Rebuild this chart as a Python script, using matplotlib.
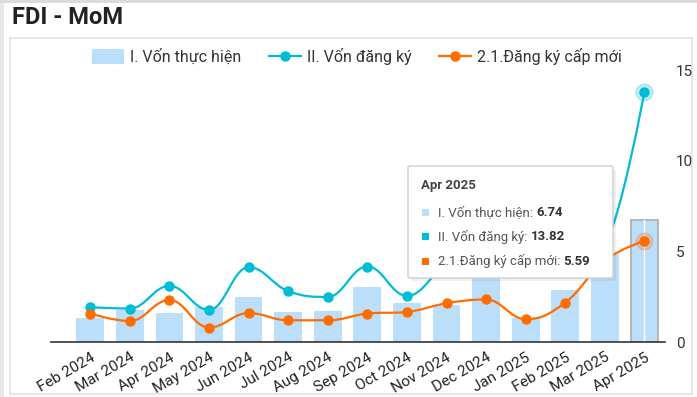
import numpy as np
import matplotlib.pyplot as plt
from matplotlib.path import Path
from matplotlib.patches import PathPatch, Rectangle, FancyBboxPatch, Patch
from matplotlib.lines import Line2D

plt.rcParams['font.family'] = ['Roboto', 'DejaVu Sans']

months = ['Feb 2024', 'Mar 2024', 'Apr 2024', 'May 2024', 'Jun 2024', 'Jul 2024',
          'Aug 2024', 'Sep 2024', 'Oct 2024', 'Nov 2024', 'Dec 2024', 'Jan 2025',
          'Feb 2025', 'Mar 2025', 'Apr 2025']
von_thuc_hien = [1.30, 1.75, 1.60, 1.94, 2.49, 1.66, 1.74, 3.04, 2.16, 2.05, 3.70, 1.35, 2.90, 4.85, 6.74]
von_dang_ky = [1.92, 1.85, 3.10, 1.77, 4.13, 2.81, 2.49, 4.17, 2.55, 4.30, 5.20, 3.90, 4.10, 5.40, 13.82]
dang_ky_moi = [1.57, 1.16, 2.32, 0.80, 1.60, 1.20, 1.20, 1.57, 1.66, 2.14, 2.35, 1.26, 2.18, 4.50, 5.59]

C_BAR = '#BBDEFB'
C_TEAL = '#00BCD4'
C_ORANGE = '#FF6D00'

W, H = 697, 397


def fx(px):
    return px / W


def fy(py):
    return 1 - py / H


def spline_path(xs, ys, smoothing=1.5):
    # highcharts-like spline through the points
    n = len(xs)
    denom = smoothing + 1
    rc = [None] * n
    lc = [None] * n
    for i in range(1, n - 1):
        px, py = xs[i], ys[i]
        lx, ly = xs[i - 1], ys[i - 1]
        nx, ny = xs[i + 1], ys[i + 1]
        lcx = (smoothing * px + lx) / denom
        lcy = (smoothing * py + ly) / denom
        rcx = (smoothing * px + nx) / denom
        rcy = (smoothing * py + ny) / denom
        corr = (rcy - lcy) * (rcx - px) / (rcx - lcx) + py - rcy
        lcy += corr
        rcy += corr
        if lcy > ly and lcy > py:
            lcy = max(ly, py); rcy = 2 * py - lcy
        elif lcy < ly and lcy < py:
            lcy = min(ly, py); rcy = 2 * py - lcy
        if rcy > ny and rcy > py:
            rcy = max(ny, py); lcy = 2 * py - rcy
        elif rcy < ny and rcy < py:
            rcy = min(ny, py); lcy = 2 * py - rcy
        lc[i] = (lcx, lcy)
        rc[i] = (rcx, rcy)
    verts = [(xs[0], ys[0])]
    codes = [Path.MOVETO]
    for i in range(1, n):
        c1 = rc[i - 1] if rc[i - 1] is not None else (xs[i - 1], ys[i - 1])
        c2 = lc[i] if lc[i] is not None else (xs[i], ys[i])
        verts += [c1, c2, (xs[i], ys[i])]
        codes += [Path.CURVE4] * 3
    return Path(verts, codes)


fig = plt.figure(figsize=(W / 100, H / 100), dpi=100)

# page frame
fig.patches.append(Rectangle((0, 0), fx(4), 1, transform=fig.transFigure,
                             facecolor='#e9e9e9', edgecolor='none', zorder=-2))
fig.patches.append(Rectangle((0, fy(2.5)), 1, fy(0) - fy(2.5), transform=fig.transFigure,
                             facecolor='#dcdcdc', edgecolor='none', zorder=-2))
fig.patches.append(Rectangle((fx(10), fy(394)), fx(682), fy(37.5) - fy(394),
                             transform=fig.transFigure, facecolor='white',
                             edgecolor='#e2e2e2', linewidth=1.2, zorder=-1))

fig.text(fx(12), fy(17), 'FDI - MoM', fontsize=17, fontweight='bold', color='#222222',
         va='center', ha='left')

ax = fig.add_axes([fx(50.7), fy(342), fx(665) - fx(50.7), fy(70.5) - fy(342)])
ax.set_zorder(1)
ax.set_facecolor('none')
x = np.arange(len(months))

bars = ax.bar(x, von_thuc_hien, width=0.7, color=C_BAR, zorder=2)
# hovered bar
bars[-1].set_edgecolor('#b5b5b5')
bars[-1].set_linewidth(1.4)
ax.plot([x[-1], x[-1]], [0, von_thuc_hien[-1]], color='white', lw=1, zorder=2.5)

for vals, col, z in [(von_dang_ky, C_TEAL, 3), (dang_ky_moi, C_ORANGE, 4)]:
    ax.add_patch(PathPatch(spline_path(x.astype(float), vals), facecolor='none',
                           edgecolor=col, lw=1.6, zorder=z))
    ax.plot(x, vals, 'o', color=col, markersize=6.5, zorder=z + 0.1)
    ax.plot(x[-1], vals[-1], 'o', color=col, markersize=12, alpha=0.25, zorder=z)

ax.set_xlim(-1.0, len(months) - 0.48)
ax.set_ylim(0, 15)
ax.yaxis.tick_right()
ax.set_yticks([0, 5, 10, 15])
ax.tick_params(axis='y', length=0, labelsize=11, labelcolor='#333333', pad=8)
ax.set_xticks(x)
ax.set_xticklabels(months, rotation=30, ha='right', rotation_mode='anchor',
                   fontsize=11, color='#222222')
ax.tick_params(axis='x', length=0, pad=6)
for s in ['top', 'left', 'right']:
    ax.spines[s].set_visible(False)
ax.spines['bottom'].set_color('#333333')
ax.spines['bottom'].set_linewidth(1.2)

handles = [Patch(facecolor=C_BAR, edgecolor='none'),
           Line2D([], [], color=C_TEAL, lw=1.6, marker='o', markersize=6.5),
           Line2D([], [], color=C_ORANGE, lw=1.6, marker='o', markersize=6.5)]
labels = ['I. Vốn thực hiện', 'II. Vốn đăng ký', '2.1.Đăng ký cấp mới']
fig.legend(handles, labels, loc='center', bbox_to_anchor=(fx(357), fy(56.5)), ncol=3,
           frameon=False, fontsize=11.5, handlelength=2.0, handleheight=1.0,
           columnspacing=1.7, handletextpad=0.38, labelcolor='#333333')

# tooltip
fig.patches.append(FancyBboxPatch((fx(411), fy(281)), fx(205), fy(167) - fy(279),
                                  boxstyle='round,pad=0,rounding_size=0.004',
                                  transform=fig.transFigure, facecolor='#000000',
                                  alpha=0.06, edgecolor='none', zorder=9))
fig.patches.append(FancyBboxPatch((fx(408), fy(278)), fx(205), fy(166) - fy(278),
                                  boxstyle='round,pad=0,rounding_size=0.004',
                                  transform=fig.transFigure, facecolor='white',
                                  edgecolor='#cfcfcf', linewidth=1, zorder=10))
fig.text(fx(421), fy(186), 'Apr 2025', fontsize=9.5, fontweight='bold', color='#444444',
         va='center', zorder=11)
tip_names = ['I. Vốn thực hiện: ', 'II. Vốn đăng ký: ', '2.1.Đăng ký cấp mới: ']
tip_vals = [von_thuc_hien[-1], von_dang_ky[-1], dang_ky_moi[-1]]
tip_cols = [C_BAR, C_TEAL, C_ORANGE]
fig.canvas.draw()
r = fig.canvas.get_renderer()
for i, (nm, v, c) in enumerate(zip(tip_names, tip_vals, tip_cols)):
    yy = fy(212.5 + i * 24.3)
    fig.patches.append(Rectangle((fx(422), yy - 3.5 / H), 7 / W, 7 / H,
                                 transform=fig.transFigure, facecolor=c,
                                 edgecolor='none', zorder=11))
    t = fig.text(fx(438), yy, nm, fontsize=9.5, color='#555555', va='center', zorder=11)
    bb = t.get_window_extent(r)
    fig.text(bb.x1 / W, yy, '%.2f' % v, fontsize=9.5, fontweight='bold',
             color='#333333', va='center', zorder=11)

fig.savefig('out.png', dpi=100)
